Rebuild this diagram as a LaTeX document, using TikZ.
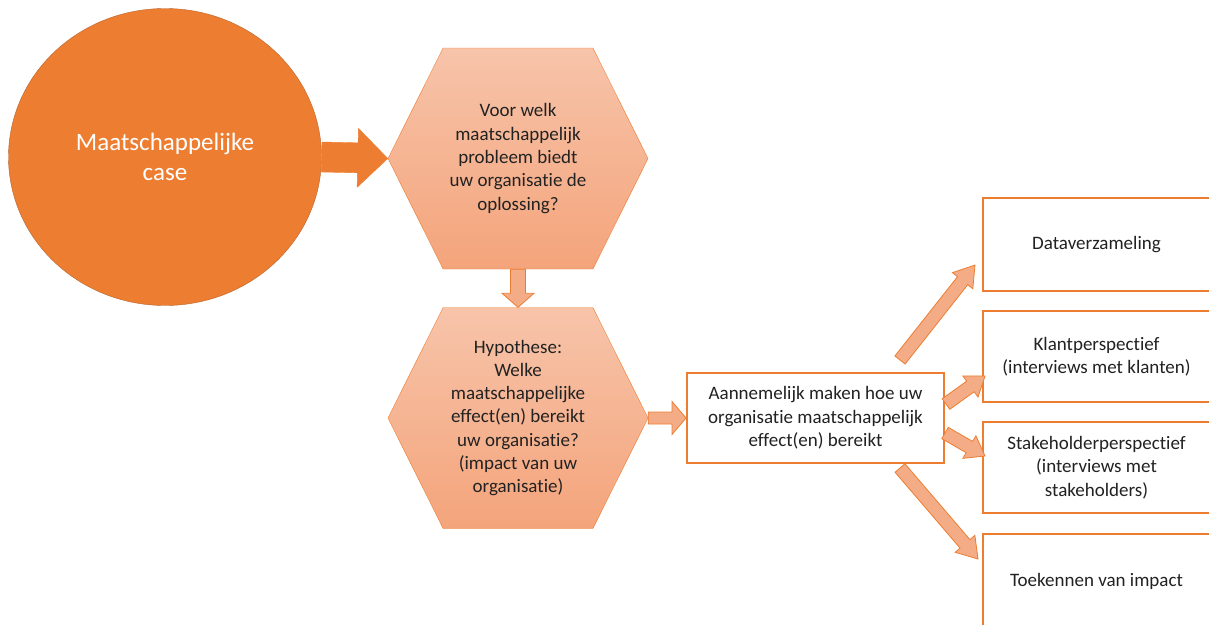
\documentclass[tikz,border=0pt]{standalone}
\usepackage{fontspec}
\setmainfont{Carlito}[Ligatures=NoCommon]
\usepackage{tikz}
\usetikzlibrary{calc}
\usetikzlibrary{shapes.geometric}
\usetikzlibrary{shapes.symbols}
\definecolor{accent}{HTML}{ED7D31}
\definecolor{accentdark}{HTML}{B8642C}
\definecolor{accentlight}{HTML}{F4AC86}
\definecolor{hextop}{HTML}{F7C4AA}
\definecolor{hexbot}{HTML}{F4A47B}
\definecolor{textgray}{HTML}{222222}
\tikzset{casecircle/.style={shape=ellipse, draw=accentdark, fill=accent,
    minimum width=313pt, minimum height=297pt, text=white, align=center,
    font=\fontsize{25}{30}\selectfont}}
\tikzset{hexbox/.style={shape=signal, signal to=east and west,
    signal pointer angle=127, draw=accent, top color=hextop, bottom color=hexbot,
    minimum width=260pt, minimum height=221pt, inner sep=0pt, align=center,
    text=textgray, font=\fontsize{19}{23.3}\selectfont}}
\tikzset{stepbox/.style={shape=rectangle, draw=accent, line width=2pt, fill=white,
    align=center, text=textgray, font=\fontsize{19}{23.3}\selectfont}}
\tikzset{fat/.style={fill=accent, draw=accent}}
\tikzset{thin/.style={fill=accentlight, draw=accent, line width=0.8pt}}
% #1 style, #2 from, #3 to, #4 shaft half width, #5 head half width, #6 head length
\newcommand{\blockarrow}[6]{%
    \coordinate (ah) at ($(#3)!#6!(#2)$);
    \draw[#1] ($(#2)!#4!90:(#3)$) -- ($(ah)!#4!90:(#3)$) -- ($(ah)!#5!90:(#3)$)
        -- (#3) -- ($(ah)!#5!-90:(#3)$) -- ($(ah)!#4!-90:(#3)$)
        -- ($(#2)!#4!-90:(#3)$) -- cycle;}

\begin{document}
\begin{tikzpicture}[x=1pt, y=-1pt]
        \useasboundingbox (0,0) rectangle (1209,624);

            \node[casecircle] (case) at (165,157) {Maatschappelijke\\case};
            \node[hexbox] (probleem) at (518,158.5)
                {Voor welk\\maatschappelijk\\probleem biedt\\uw organisatie de\\oplossing?};
            \node[hexbox] (hypothese) at (518,418)
                {Hypothese:\\Welke\\maatschappelijke\\effect(en) bereikt\\uw organisatie?\\(impact van uw\\organisatie)};
            \node[stepbox, minimum width=257pt, minimum height=90pt] (effect) at (815.5,418)
                {Aannemelijk maken hoe uw\\organisatie maatschappelijk\\effect(en) bereikt};
            \node[stepbox, minimum width=227pt, minimum height=93pt] (data) at (1096.5,244.5) {Dataverzameling};
            \node[stepbox, minimum width=227pt, minimum height=91pt] (klant) at (1096.5,356.5)
                {Klantperspectief\\(interviews met klanten)};
            \node[stepbox, minimum width=227pt, minimum height=91pt] (stake) at (1096.5,467.5)
                {Stakeholderperspectief\\(interviews met\\stakeholders)};
            \node[stepbox, minimum width=227pt, minimum height=94pt] (impact) at (1096.5,581) {Toekennen van impact};

            \coordinate (d1) at (900,360);
            \coordinate (d2) at (975,265);
            \coordinate (k1) at (946,404);
            \coordinate (k2) at (985,376);
            \coordinate (s1) at (945,433);
            \coordinate (s2) at (985,456);
            \coordinate (t1) at (900,468);
            \coordinate (t2) at (978,559);

            \blockarrow{fat}{case.east}{probleem.west}{15pt}{29.5pt}{30pt}
            \blockarrow{thin}{probleem.south}{hypothese.north}{7.5pt}{16pt}{14pt}
            \blockarrow{thin}{hypothese.east}{effect.west}{6pt}{16.5pt}{14pt}
            \blockarrow{thin}{d1}{d2}{6.5pt}{13pt}{20pt}
            \blockarrow{thin}{k1}{k2}{6.5pt}{13pt}{18pt}
            \blockarrow{thin}{s1}{s2}{6.5pt}{13pt}{18pt}
            \blockarrow{thin}{t1}{t2}{6.5pt}{13pt}{20pt}

        \end{tikzpicture}
\end{document}
